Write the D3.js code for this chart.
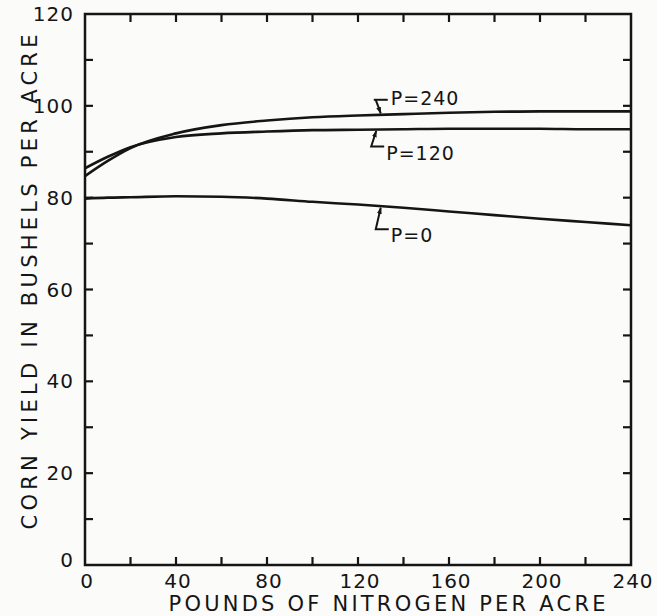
<!DOCTYPE html>
<html>
<head>
<meta charset="utf-8">
<script src="https://cdn.jsdelivr.net/npm/d3@7"></script>
<style>
  body { margin: 0; background: #fbfbf9; }
  svg { display: block; }
  text { font-family: "DejaVu Sans", sans-serif; fill: #151515; }
</style>
</head>
<body>
<div id="chart"></div>
<script>
// Data
const nitrogen = [0, 10, 20, 40, 60, 80, 100, 120, 140, 160, 180, 200, 220, 240];
const yieldP0   = [79.8, 80.0, 80.1, 80.3, 80.2, 79.8, 79.1, 78.5, 77.8, 77.0, 76.2, 75.4, 74.7, 74.0];
const yieldP120 = [86.4, 88.9, 91.0, 93.2, 94.0, 94.4, 94.7, 94.8, 94.9, 95.0, 95.0, 95.0, 94.9, 94.9];
const yieldP240 = [84.7, 88.0, 90.8, 94.0, 95.8, 96.8, 97.5, 97.9, 98.2, 98.5, 98.7, 98.8, 98.8, 98.8];
const seriesNames = ["P=0", "P=120", "P=240"];
const labelAtN = [130, 128, 130];   // nitrogen value where each leader arrow points
const xTicks = [0, 40, 80, 120, 160, 200, 240];
const yTicks = [0, 20, 40, 60, 80, 100, 120];

const width = 657, height = 616;
const margin = {top: 14, right: 26, bottom: 51, left: 85};
const ink = "#151515";

const svg = d3.select("#chart").append("svg")
    .attr("width", width)
    .attr("height", height);

const x = d3.scaleLinear().domain([0, 240]).range([margin.left, width - margin.right]);
const y = d3.scaleLinear().domain([0, 120]).range([height - margin.bottom, margin.top]);

// arrowhead
svg.append("defs").append("marker")
    .attr("id", "arrow")
    .attr("viewBox", "0 0 10 10")
    .attr("refX", 9).attr("refY", 5)
    .attr("markerUnits", "userSpaceOnUse")
    .attr("markerWidth", 7).attr("markerHeight", 7)
    .attr("orient", "auto")
    .append("path")
    .attr("d", "M0,1.5 L10,5 L0,8.5 Z")
    .attr("fill", ink);

// frame
svg.append("rect")
    .attr("x", x(0)).attr("y", y(120))
    .attr("width", x(240) - x(0)).attr("height", y(0) - y(120))
    .attr("fill", "none")
    .attr("stroke", ink)
    .attr("stroke-width", 2.5);

// inward ticks on all four sides
const minorX = d3.range(20, 240, 20);
const minorY = d3.range(10, 120, 10);
const tickLen = 8;
const tickG = svg.append("g").attr("stroke", ink).attr("stroke-width", 2.2);
tickG.selectAll(".tb").data(minorX).enter().append("line")
    .attr("x1", d => x(d)).attr("x2", d => x(d))
    .attr("y1", y(0)).attr("y2", y(0) - tickLen);
tickG.selectAll(".tt").data(minorX).enter().append("line")
    .attr("x1", d => x(d)).attr("x2", d => x(d))
    .attr("y1", y(120)).attr("y2", y(120) + tickLen);
tickG.selectAll(".tl").data(minorY).enter().append("line")
    .attr("y1", d => y(d)).attr("y2", d => y(d))
    .attr("x1", x(0)).attr("x2", x(0) + tickLen);
tickG.selectAll(".tr").data(minorY).enter().append("line")
    .attr("y1", d => y(d)).attr("y2", d => y(d))
    .attr("x1", x(240)).attr("x2", x(240) - tickLen);

// tick labels
svg.append("g").selectAll("text").data(xTicks).enter().append("text")
    .attr("x", d => x(d) + 2)
    .attr("y", y(0) + 23)
    .attr("text-anchor", "middle")
    .attr("font-size", 20)
    .attr("letter-spacing", 1)
    .text(d => d);
svg.append("g").selectAll("text").data(yTicks).enter().append("text")
    .attr("x", x(0) - 11)
    .attr("y", d => y(d) + (d === 0 ? 2 : 7))
    .attr("text-anchor", "end")
    .attr("font-size", 20)
    .attr("letter-spacing", 1)
    .text(d => d);

// axis titles
svg.append("text")
    .attr("x", 387).attr("y", 611)
    .attr("text-anchor", "middle")
    .attr("font-size", 21)
    .attr("textLength", 437).attr("lengthAdjust", "spacing")
    .text("POUNDS OF NITROGEN PER ACRE");
svg.append("text")
    .attr("transform", "translate(37,282) rotate(-90)")
    .attr("text-anchor", "middle")
    .attr("font-size", 21)
    .attr("textLength", 495).attr("lengthAdjust", "spacing")
    .text("CORN YIELD IN BUSHELS PER ACRE");

// curves
const series = [yieldP0, yieldP120, yieldP240];
const line = d3.line()
    .x((d, i) => x(nitrogen[i]))
    .y(d => y(d))
    .curve(d3.curveMonotoneX);
svg.append("g").selectAll("path").data(series).enter().append("path")
    .attr("d", d => line(d))
    .attr("fill", "none")
    .attr("stroke", ink)
    .attr("stroke-width", 2.6);

// value on a series at a given nitrogen level (linear between read points)
function valueAt(vals, n) {
  return d3.scaleLinear().domain(nitrogen).range(vals)(n);
}

// leader labels: P=0 and P=120 hang below their curve, P=240 sits above
const leaderG = svg.append("g");
series.forEach((vals, i) => {
  const tx = x(labelAtN[i]);
  const ty = y(valueAt(vals, labelAtN[i]));
  const drop = i === 0 ? 23 : (i === 1 ? 17 : -15);
  const cornerX = tx - 5;
  const cornerY = ty + drop;
  if (i === 2) {
    leaderG.append("line")
      .attr("x1", cornerX - 2).attr("y1", cornerY)
      .attr("x2", cornerX + 12).attr("y2", cornerY)
      .attr("stroke", ink).attr("stroke-width", 2);
    leaderG.append("line")
      .attr("x1", cornerX).attr("y1", cornerY)
      .attr("x2", tx).attr("y2", ty - 1.5)
      .attr("stroke", ink).attr("stroke-width", 2)
      .attr("marker-end", "url(#arrow)");
    leaderG.append("text")
      .attr("x", tx + 10).attr("y", cornerY + 5)
      .attr("font-size", 19)
      .attr("letter-spacing", 1)
      .text(seriesNames[i]);
  } else {
    leaderG.append("path")
      .attr("d", `M${cornerX + 13},${cornerY} L${cornerX},${cornerY} L${tx},${ty + 1.5}`)
      .attr("fill", "none")
      .attr("stroke", ink).attr("stroke-width", 2)
      .attr("marker-end", "url(#arrow)");
    leaderG.append("text")
      .attr("x", cornerX + 15).attr("y", cornerY + 13)
      .attr("font-size", 19)
      .attr("letter-spacing", 1)
      .text(seriesNames[i]);
  }
});
</script>
</body>
</html>
